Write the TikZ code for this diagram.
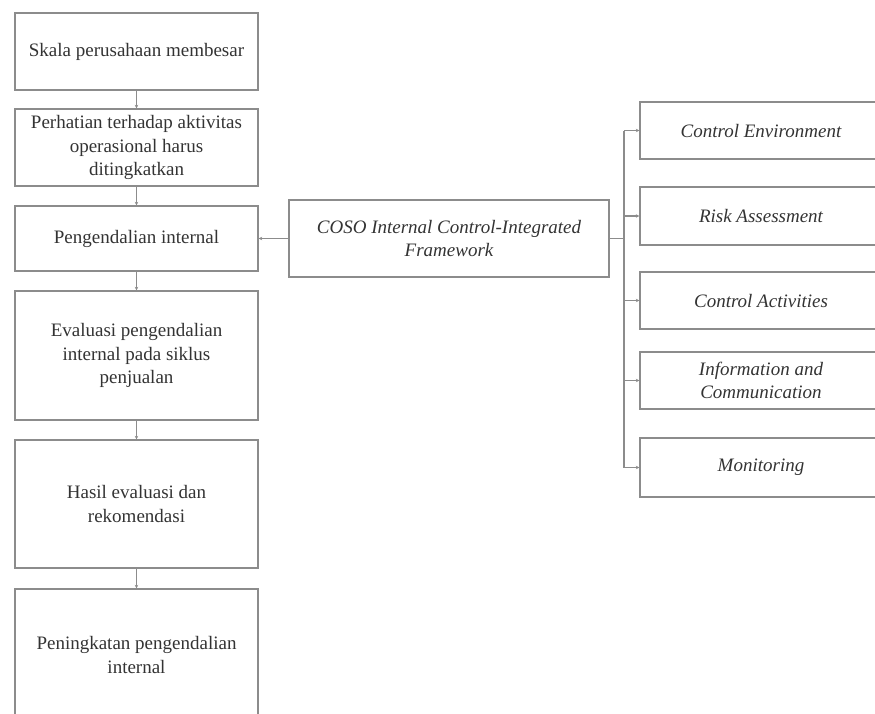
\documentclass[tikz,border=0pt]{standalone}
\usepackage{fontspec}
\setmainfont{Liberation Serif}
\usetikzlibrary{arrows.meta}
\definecolor{linegray}{HTML}{8C8C8C}
\definecolor{textgray}{HTML}{333333}
\begin{document}
\begin{tikzpicture}[x=1pt,y=-1pt,
  box/.style={draw=linegray,line width=1.3pt,text=textgray,align=center,inner sep=0pt,
    font=\fontsize{19}{23.5}\selectfont},
  lbox/.style={box,minimum width=243pt},
  rbox/.style={box,minimum width=242pt,font=\fontsize{19}{23.5}\selectfont\itshape},
  conn/.style={draw=linegray,line width=1.1pt},
  arr/.style={conn,-{Stealth[length=3.5pt,width=3.5pt]}}]
\useasboundingbox (0,0) rectangle (875,713);
\clip (0,0) rectangle (875,713);
\node[lbox,minimum height=77pt] (b1) at (136.5,51.5) {Skala perusahaan membesar};
\node[lbox,minimum height=77pt] (b2) at (136.5,147.5) {Perhatian terhadap aktivitas\\operasional harus\\ditingkatkan};
\node[lbox,minimum height=65pt] (b3) at (136.5,238.5) {Pengendalian internal};
\node[lbox,minimum height=129pt] (b4) at (136.5,355.5) {Evaluasi pengendalian\\internal pada siklus\\penjualan};
\node[lbox,minimum height=128pt] (b5) at (136.5,504) {Hasil evaluasi dan\\rekomendasi};
\node[lbox,minimum height=132pt] (b6) at (136.5,655) {Peningkatan pengendalian\\internal};
\node[box,minimum width=320pt,minimum height=77pt,font=\fontsize{19}{23.5}\selectfont\itshape] (coso) at (449,238.5) {COSO Internal Control-Integrated\\Framework};
\node[rbox,minimum height=57pt] (r1) at (761,130.5) {Control Environment};
\node[rbox,minimum height=58pt] (r2) at (761,216) {Risk Assessment};
\node[rbox,minimum height=57pt] (r3) at (761,300.5) {Control Activities};
\node[rbox,minimum height=57pt] (r4) at (761,380.5) {Information and\\Communication};
\node[rbox,minimum height=59pt] (r5) at (761,467.5) {Monitoring};
\draw[arr] (b1) -- (b2);
\draw[arr] (b2) -- (b3);
\draw[arr] (b3) -- (b4);
\draw[arr] (b4) -- (b5);
\draw[arr] (b5) -- (b6);
\draw[arr] (coso) -- (b3);
\coordinate (tj) at (624,238.5);
\coordinate (tt) at (624,130.5);
\coordinate (tb) at (624,467.5);
\draw[conn] (coso.east) -- (tj);
\draw[conn] (tt) -- (tb);
\draw[arr] (tt) -- (r1.west);
\draw[arr] (624,216) -- (r2.west);
\draw[arr] (624,300.5) -- (r3.west);
\draw[arr] (624,380.5) -- (r4.west);
\draw[arr] (tb) -- (r5.west);
\end{tikzpicture}
\end{document}
